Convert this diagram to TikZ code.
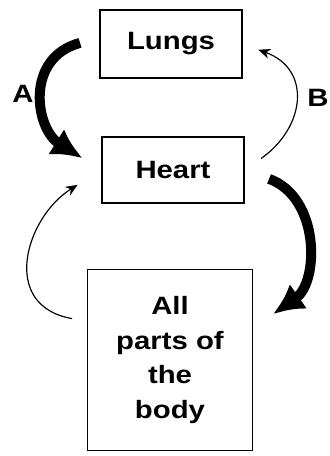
\documentclass[tikz,border=0pt]{standalone}
\usepackage{fontspec}
\setmainfont{Liberation Sans}[FakeStretch=1.17]
\usetikzlibrary{arrows.meta}
\tikzset{
	organ/.style={draw=black, line width=1.1pt, inner sep=0pt, font=\fontsize{21.4}{29.8}\selectfont\bfseries, align=center},
	bigflow/.style={line width=0.3cm, -{Latex[length=0.93cm,width=0.9cm]}},
	smallflow/.style={line width=1pt, -{Stealth[length=0.36cm,width=0.3cm]}},
	letter/.style={font=\fontsize{21.4}{24}\selectfont\bfseries}
}
\begin{document}
\begin{tikzpicture}[x=0.03cm, y=-0.03cm]
				\useasboundingbox (0,0) rectangle (329,456);
				\node[organ, minimum width=4.26cm, minimum height=2.04cm] (lungs) at (171,44) {Lungs};
				\node[organ, minimum width=4.26cm, minimum height=1.98cm] (heart) at (173,170) {Heart};
				\node[organ, minimum width=4.95cm, minimum height=5.43cm] (body) at (170,360) {All\\parts of\\the\\body};
				\draw[bigflow, shorten <=0.6cm, shorten >=0.66cm] (lungs.175) to[out=195, in=148, looseness=1.5] (heart.west);
				\draw[smallflow, shorten <=0.6cm, shorten >=0.5cm] (heart.east) to[out=35, in=-20, looseness=1.5] (lungs.east);
				\draw[bigflow, shorten <=0.78cm, shorten >=0.72cm] (heart.east) to[out=-20, in=35, looseness=1.3] (body.21);
				\draw[smallflow, shorten <=0.45cm, shorten >=0.84cm] (body.155) to[out=170, in=212, looseness=1.5] (heart.west);
				\node[letter] (a) at (23,94) {A};
				\node[letter] (b) at (318,98) {B};
			\end{tikzpicture}
\end{document}
